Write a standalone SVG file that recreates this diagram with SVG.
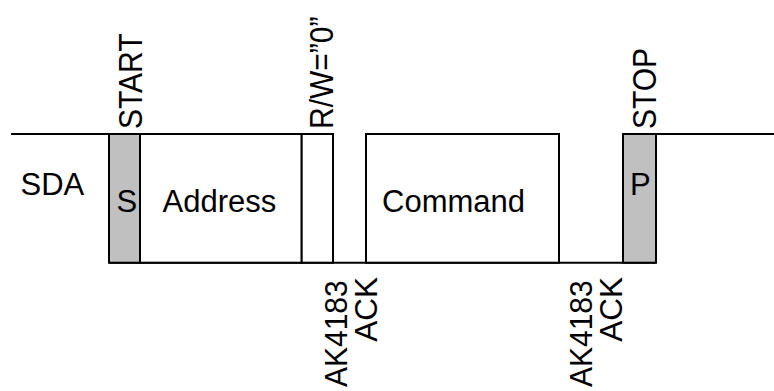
<svg xmlns="http://www.w3.org/2000/svg" width="774" height="391" viewBox="0 0 774 391">
<style>
.t{font-family:"Liberation Sans",Arial,sans-serif;font-size:30px;fill:#000}
.h{font-size:31px}
.ln{stroke:#000;stroke-width:2;fill:none}
.bit{fill:#c0c0c0;stroke:#000;stroke-width:2}
.fr{fill:#fff;stroke:#000;stroke-width:2}
</style>
<rect width="774" height="391" fill="#fff"/>
<g id="connectors">
<path class="ln" d="M11,134 H109 M140,134 H301.7 M656,134 H774"/>
<path class="ln" d="M109,262.7 H656"/>
</g>
<g id="sda-label"><text class="t h" x="20.5" y="195">SDA</text></g>
<g id="start-bit">
<rect class="bit" x="109" y="134" width="31" height="128.7"/>
<text class="t h" x="116.6" y="212">S</text>
<text class="t" transform="translate(141.5,129) rotate(-90) scale(1,1.1)">START</text>
</g>
<g id="address">
<rect class="fr" x="140" y="134" width="161.7" height="128.7"/>
<text class="t h" x="162.5" y="212">Address</text>
</g>
<g id="rw-bit">
<rect class="fr" x="301.7" y="134" width="31.3" height="128.7"/>
<text class="t" transform="translate(333,129) rotate(-90) scale(1,1.1)">R/W=”0”</text>
</g>
<g id="ack1">
<text class="t" transform="translate(346.5,387) rotate(-90) scale(1,1.05)">AK4183</text>
<text class="t" text-anchor="end" transform="translate(377,277) rotate(-90) scale(1.05,1.05)">ACK</text>
</g>
<g id="command">
<rect class="fr" x="366" y="134" width="193" height="128.7"/>
<text class="t h" x="382" y="212">Command</text>
</g>
<g id="ack2">
<text class="t" transform="translate(591.5,387) rotate(-90) scale(1,1.05)">AK4183</text>
<text class="t" text-anchor="end" transform="translate(622,277) rotate(-90) scale(1.05,1.05)">ACK</text>
</g>
<g id="stop-bit">
<rect class="bit" x="623" y="134" width="33" height="128.7"/>
<text class="t h" x="630" y="195">P</text>
<text class="t" transform="translate(655.5,129) rotate(-90) scale(1,1.1)">STOP</text>
</g>
</svg>
